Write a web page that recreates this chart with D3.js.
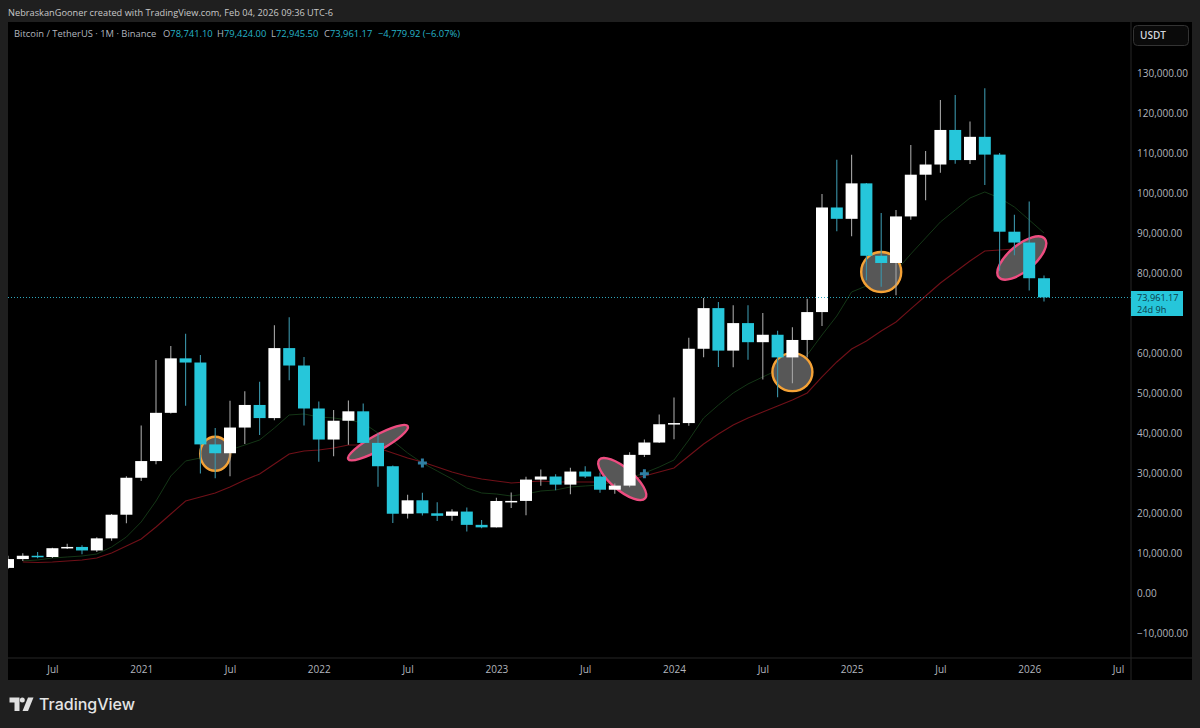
<!DOCTYPE html>
<html><head><meta charset="utf-8">
<style>html,body{margin:0;padding:0;background:#1f1f1f;overflow:hidden}svg{display:block}text{font-family:"Open Sans","Noto Sans",sans-serif}</style>
<script src="https://cdn.jsdelivr.net/npm/d3@7"></script></head><body><svg id="c" width="1200" height="728"></svg>
<script>
const opens=[6412,8620,9448,9138,11335,11649,10776,13791,19695,28923,33092,45134,58739,57697,37253,35045,41461,47100,43820,61300,56950,46216,38466,43160,45510,37630,31801,19942,23296,20048,19422,20482,17165,16541,23125,23141,28465,29233,27210,30472,29232,25940,26962,34639,37723,42283,42580,61130,71280,60672,67540,62772,64628,58974,63328,70292,96408,93576,102429,84350,82550,94172,104592,107135,115764,108246,114048,109608,90360,87648,78741];
const highs=[9460,10067,10380,11444,12468,12050,14100,19863,29300,41950,58352,61844,64854,59592,41330,48168,50500,52920,67000,69000,59053,47990,45821,48190,47464,40000,32000,24668,25202,22800,21085,21480,18387,23960,25250,29184,31000,29820,31431,31804,30244,27483,35280,38450,44700,48970,63913,73777,72797,71979,71980,70079,65659,66498,73620,99800,108353,109588,102500,95000,95758,111980,110530,123218,124474,117900,126199,110000,94588,97900,79424];
const lows=[6150,8117,8833,8893,11111,9825,10374,13195,17572,28130,32296,44950,46930,30000,28805,29278,37332,39600,43283,53256,41967,32917,34322,37155,37578,26700,17622,18781,19520,18125,18200,15476,16333,16499,21351,19549,26942,25811,24800,28861,25166,24900,26538,34097,37630,38555,41880,59005,56552,56500,58402,53485,49000,52550,58946,66835,90500,89256,78258,76606,74508,93347,98200,105100,107350,107270,102000,80600,84450,75700,72945];
const closes=[8620,9448,9138,11335,11649,10776,13791,19695,28923,33092,45135,58740,57694,37254,35045,41461,47100,43824,61300,56950,46216,38466,43160,45510,37630,31801,19942,23293,20050,19422,20490,17163,16542,23125,23141,28465,29233,27210,30472,29232,25940,26962,34639,37723,42284,42580,61130,71280,60672,67540,62772,64628,58974,63328,70292,96408,93576,102429,84350,82550,94172,104592,107135,115764,108246,114048,109608,90360,87648,78741,73961];
const greenMA=[8140,8390,8890,9140,9390,9890,11640,14130,17880,23120,29360,33110,33860,34610,35860,37100,38350,41350,44600,44850,44100,43850,43350,42600,40100,38100,35110,32610,30610,28620,26370,25120,24870,24370,24870,25620,25870,26620,26870,27120,27870,28870,30110,31610,33360,38350,43850,47090,50090,52340,54090,55830,57080,59580,64570,69320,75310,76810,78310,80560,84800,88800,92790,95790,98780,100280,98780,96530,93290,90040];
const redMA=[7890,7770,7890,8140,8390,8890,10140,11890,13630,16630,19880,23120,24120,25120,26620,28370,29860,32360,34860,35610,35860,36360,37100,37100,36360,35110,33860,32860,31610,30360,29360,28620,28120,27620,27870,28120,27870,27870,27870,27870,27870,28370,29360,30360,31360,34360,37360,39850,42100,43850,45350,46840,48340,50090,54090,57830,61080,63080,65570,67820,71070,74310,77560,80310,83050,85550,85800,86050];
const priceTicks=[-10000,0,10000,20000,30000,40000,50000,60000,80000,90000,100000,110000,120000,130000];
const timeTickIdx=[3,9,15,21,27,33,39,45,51,57,63,69,75];
const timeTickLabels=["Jul","2021","Jul","2022","Jul","2023","Jul","2024","Jul","2025","Jul","2026","Jul"];
const circleNotes=[{i:14,p:34900,rx:15,ry:17,a:0,c:"#f5a236"},{i:53,p:55300,rx:20,ry:19,a:0,c:"#f5a236"},{i:59,p:80300,rx:20,ry:20,a:0,c:"#f5a236"},
 {i:25,p:37700,rx:34,ry:7.5,a:-29,c:"#ee4c80"},{i:41.5,p:28600,rx:30,ry:11,a:40,c:"#ee4c80"},{i:68.5,p:83800,rx:30,ry:13,a:-40,c:"#ee4c80"}];
const plusNotes=[{i:28,p:32600},{i:43,p:29900}];
const headerText="NebraskanGooner created with TradingView.com, Feb 04, 2026 09:36 UTC-6";
const legendTitle="Bitcoin / TetherUS · 1M · Binance";
const legendVals=[["O","78,741.10"],["H","79,424.00"],["L","72,945.50"],["C","73,961.17"]];
const legendChange="−4,779.92 (−6.07%)";
const lastPrice=73961.17, countdown="24d 9h";

const L=8,R=1131,T=22,B=658,OUT=1192,BOT=680;
const UP="#ffffff",DN="#26c6da",UPW="#a4a4a4",DNW="#3a93a8";
const svg=d3.select("#c");
svg.append("rect").attr("width",1200).attr("height",728).attr("fill","#1f1f1f");
svg.append("rect").attr("x",L).attr("y",T).attr("width",OUT-L).attr("height",BOT-T).attr("fill","#000");
const x=d3.scaleLinear().domain([0,(R-L)/14.8]).range([L,R]);
const y=d3.scaleLinear().domain([-16080,142720]).range([B,T]);
svg.append("defs").append("clipPath").attr("id","pane").append("rect").attr("x",L).attr("y",T).attr("width",R-L).attr("height",B-T);
const g=svg.append("g").attr("clip-path","url(#pane)");
const line=d3.line().x(d=>x(d[0])).y(d=>y(d[1]));
g.append("path").attr("d",line(greenMA.map((v,k)=>[k+1,v]))).attr("fill","none").attr("stroke","#143616").attr("stroke-width",1);
g.append("path").attr("d",line(redMA.map((v,k)=>[k+1,v]))).attr("fill","none").attr("stroke","#701018").attr("stroke-width",1.1);
g.selectAll(".n").data(circleNotes).join("ellipse").attr("cx",0).attr("cy",0).attr("rx",d=>d.rx).attr("ry",d=>d.ry)
 .attr("transform",d=>`translate(${x(d.i)},${y(d.p)}) rotate(${d.a})`).attr("fill","#575757").attr("stroke",d=>d.c).attr("stroke-width",2.4);
g.selectAll(".p").data(plusNotes).join("path").attr("d",d=>{const X=x(d.i),Y=y(d.p);return `M${X-4.5},${Y}H${X+4.5}M${X},${Y-4.5}V${Y+4.5}`;})
 .attr("stroke","#2f7fa3").attr("stroke-width",3).attr("fill","none");
const idx=d3.range(opens.length);
g.selectAll(".w").data(idx).join("line").attr("x1",i=>x(i)).attr("x2",i=>x(i)).attr("y1",i=>y(highs[i])).attr("y2",i=>y(lows[i]))
 .attr("stroke",i=>closes[i]>=opens[i]?UPW:DNW).attr("stroke-width",1.1);
g.selectAll(".b").data(idx).join("rect").attr("x",i=>x(i)-6).attr("width",12)
 .attr("y",i=>y(Math.max(opens[i],closes[i]))).attr("height",i=>Math.max(1.5,Math.abs(y(opens[i])-y(closes[i]))))
 .attr("fill",i=>closes[i]>=opens[i]?UP:DN);
g.append("line").attr("x1",L).attr("x2",R).attr("y1",y(lastPrice)).attr("y2",y(lastPrice)).attr("stroke","#2fa6bc").attr("stroke-width",1).attr("stroke-dasharray","1 2").attr("shape-rendering","crispEdges");
// frame lines
svg.append("line").attr("x1",R).attr("x2",R).attr("y1",T).attr("y2",BOT).attr("stroke","#262626");
svg.append("line").attr("x1",L).attr("x2",OUT).attr("y1",B).attr("y2",B).attr("stroke","#262626");
// axes
const ya=svg.append("g").attr("transform",`translate(${R},0)`).call(d3.axisRight(y).tickValues(priceTicks).tickFormat(d3.format(",.2f")).tickSize(0).tickPadding(6));
ya.select(".domain").remove();
ya.selectAll("text").attr("fill","#b2b5be").style("font-size","10px").style("font-family",'"Open Sans"');
const xa=svg.append("g").attr("transform",`translate(0,${B})`).call(d3.axisBottom(x).tickValues(timeTickIdx).tickFormat((d,i)=>timeTickLabels[i]).tickSize(0).tickPadding(8));
xa.select(".domain").remove();
xa.selectAll("text").attr("fill","#b2b5be").style("font-size","10px").style("font-family",'"Open Sans"');
// USDT
svg.append("rect").attr("x",1133.5).attr("y",25.5).attr("width",55).attr("height",20).attr("rx",4).attr("fill","#0a0a0a").attr("stroke","#333");
svg.append("text").attr("x",1140).attr("y",39).attr("fill","#d1d4dc").style("font-size","10px").style("font-weight",600).text("USDT");
// last label
svg.append("rect").attr("x",R).attr("y",291).attr("width",52).attr("height",25).attr("fill",DN);
svg.append("text").attr("x",1137).attr("y",300.5).attr("fill","#0b3a47").style("font-size","9.2px").text(d3.format(",.2f")(lastPrice));
svg.append("text").attr("x",1137).attr("y",313).attr("fill","#0b3a47").style("font-size","9.2px").text(countdown);
// header
svg.append("text").attr("x",8).attr("y",15.5).attr("fill","#c8c8c8").style("font-size","9.2px").attr("textLength",325).text(headerText);
const legY=37,legFs="9.4px";
const legText=(px,s,c)=>svg.append("text").attr("x",px).attr("y",legY).attr("fill",c).style("font-size",legFs).text(s);
legText(14,legendTitle,"#b2b5be");
[163,217,271,324].forEach((px,i)=>{const t=legText(px,legendVals[i][0],"#b2b5be");t.append("tspan").attr("fill","#26b4c8").text(legendVals[i][1]);});
legText(378,legendChange,"#26b4c8");
// logo
const lg=svg.append("g").attr("fill","#e0e0e0");
lg.append("path").attr("d","M9.5 697.5H19.5V711H14.5V702.5H9.5Z");
lg.append("circle").attr("cx",22.3).attr("cy",700).attr("r",2.5);
lg.append("path").attr("d","M28 697.5H33.5L28 711H22.5Z");
svg.append("text").attr("x",39).attr("y",709.5).attr("fill","#e4e4e4").style("font-size","16px").style("font-family","Inter").style("font-weight",500).text("TradingView");
</script></body></html>
